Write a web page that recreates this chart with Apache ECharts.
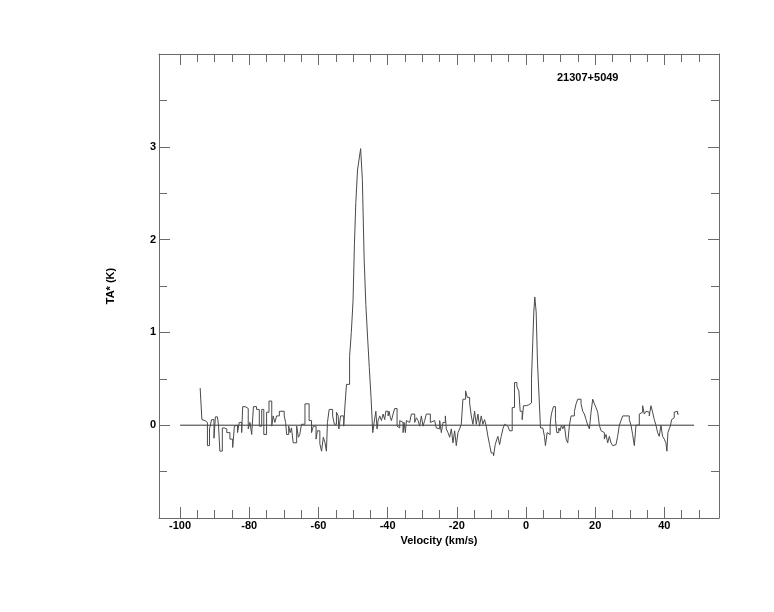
<!DOCTYPE html>
<html><head><meta charset="utf-8">
<script src="https://cdn.jsdelivr.net/npm/echarts@6/dist/echarts.min.js"></script>
<style>html,body{margin:0;padding:0;background:#fff}#c{width:774px;height:612px}</style>
</head><body><div id="c"></div>
<script>
// ---- data ----
const xMajorTicks = [-100, -80, -60, -40, -20, 0, 20, 40];
const xMinorTicks = [-100,-95,-90,-85,-80,-75,-70,-65,-60,-55,-50,-45,-40,-35,-30,-25,-20,-15,-10,-5,0,5,10,15,20,25,30,35,40,45,50];
const yTickLabels = [0, 1, 2, 3];
const sourceName = '21307+5049';
const baselineSpan = [-100, 48.6];

// [velocity (km/s) at start of step, TA* (K)]
const westBaseline = [
  [-94.2,0.40],[-93.7,0.06],[-93.3,0.05],[-92.8,0.03],[-92.1,-0.22],[-91.5,-0.04],[-91.1,-0.06],[-90.9,0.06],
  [-90.2,-0.14],[-89.8,0.09],[-89.2,0.08],[-88.9,0.00],[-88.5,-0.28],[-87.8,-0.03],[-87.2,-0.04],[-86.5,-0.08],
  [-85.6,-0.15],[-84.8,-0.24],[-84.3,-0.01],[-83.8,0.00],[-83.4,-0.08],[-82.9,0.03],[-82.2,-0.08],[-81.9,0.20],
  [-81.2,0.18],[-80.3,-0.04],[-79.8,0.03],[-79.3,-0.10],[-78.8,0.20],[-77.9,0.17],[-77.1,-0.01],[-76.4,0.17],
  [-75.8,-0.10],[-75.0,0.14],[-74.3,0.26],[-73.5,-0.01],[-73.1,0.10],[-72.6,0.03],[-72.1,0.10],[-71.3,0.15],
  [-69.9,0.10],[-69.5,0.03],[-69.2,-0.10],[-68.6,-0.01],[-68.2,-0.08],[-67.8,-0.03],[-67.3,-0.19],[-66.3,-0.01],
  [-65.8,-0.13],[-65.4,-0.10],[-64.9,0.01],[-63.9,0.23],[-62.7,0.05],[-62.0,-0.08],[-61.5,-0.01],[-60.7,-0.15],
  [-60.3,-0.06],[-59.6,-0.20],[-59.1,-0.28],[-58.6,-0.13],[-58.1,-0.19],[-57.7,-0.28],[-57.4,0.03],[-56.9,0.17],
  [-55.9,0.10],[-55.4,0.01],[-54.8,0.14],[-54.3,0.10],[-54.1,-0.04],[-53.6,0.10],[-52.7,-0.01],[-52.3,0.23]
];
const mainPeak = [
  [-51.9,0.44],[-51.0,0.74],[-50.5,1.00],[-50.0,1.34],[-49.6,1.95],[-49.2,2.40],[-48.7,2.75],[-48.2,2.88],
  [-47.8,2.98],[-47.3,2.64],[-46.8,1.80],[-46.3,1.30],[-45.8,0.95],[-45.3,0.62],[-44.8,0.30]
];
const midBand = [
  [-44.3,-0.08],[-43.9,0.03],[-43.4,0.15],[-43.05,-0.04],[-42.76,0.05],[-42.28,0.10],[-41.8,0.05],[-41.31,0.12],
  [-40.83,0.06],[-40.55,0.15],[-39.87,0.10],[-39.58,0.15],[-39.2,0.08],[-38.91,0.05],[-38.43,0.12],[-37.95,0.18],
  [-37.27,-0.01],[-36.99,-0.03],[-36.5,0.05],[-36.02,0.03],[-35.54,-0.08],[-35.25,0.03],[-34.87,-0.08],[-34.58,0.05],
  [-34.1,0.03],[-33.62,0.05],[-33.14,0.12],[-32.17,0.03],[-31.69,0.08],[-31.21,0.05],[-30.73,-0.01],[-30.25,0.10],
  [-29.77,-0.01],[-29.29,0.05],[-28.81,0.12],[-27.65,0.03],[-27.08,0.05],[-26.4,0.06],[-25.92,-0.03],[-25.44,-0.04],
  [-24.96,0.05],[-24.48,-0.08],[-24.0,0.03],[-23.32,0.10],[-23.04,-0.04],[-22.55,-0.08],[-22.07,-0.13],[-21.59,-0.04],
  [-21.11,-0.19],[-20.63,-0.06],[-20.15,-0.22],[-19.67,-0.08],[-19.19,-0.04],[-18.71,0.01],[-18.23,0.28],[-17.46,0.37],
  [-16.98,0.30],[-16.3,0.24],[-15.82,0.10],[-15.34,0.01],[-14.86,0.15],[-14.38,0.01],[-13.9,0.12],[-13.42,-0.01],
  [-12.94,0.10],[-12.46,0.01],[-11.97,0.06],[-11.49,-0.01],[-11.01,-0.12],[-10.53,-0.21],[-10.05,-0.30],[-9.38,-0.33],
  [-8.9,-0.21],[-8.41,-0.15],[-8.13,-0.12],[-7.64,-0.21],[-7.16,-0.12],[-6.68,-0.04],[-6.2,0.01],[-5.72,-0.01],
  [-5.24,0.01],[-4.76,-0.06]
];
const eastBand = [
  [-3.99,0.19],[-3.32,0.46],[-2.64,0.42],[-2.07,0.37],[-1.68,0.15],[-1.10,0.06],[-0.72,0.21],[0.05,0.22],
  [0.82,0.23],[1.20,0.24],[1.59,0.50],[1.97,0.91],[2.26,1.22],[2.55,1.38],[2.94,1.22],[3.32,0.68],
  [3.70,0.37],[4.19,-0.03],[4.86,-0.04],[5.34,-0.12],[5.63,-0.22],[6.11,-0.08],[6.59,-0.10],[6.98,0.00],
  [7.26,0.10],[7.55,0.15],[7.94,0.20],[8.52,0.06],[8.90,-0.08],[9.48,-0.03],[9.86,-0.06],[10.25,0.00],
  [10.63,-0.04],[11.11,0.00],[11.60,-0.15],[12.07,-0.19],[12.56,0.00],[13.04,0.10],[14.00,0.15],[14.48,0.23],
  [14.96,0.28],[15.92,0.23],[16.40,0.15],[16.88,0.12],[17.37,0.06],[17.85,0.00],[18.33,-0.04],[18.81,0.14],
  [19.29,0.28],[19.77,0.23],[20.25,0.19],[20.73,0.14],[21.21,0.00],[21.70,-0.06],[22.18,-0.08],[22.66,-0.15],
  [23.14,-0.10],[23.62,-0.19],[24.10,-0.12],[24.58,-0.19],[25.06,-0.22],[25.54,-0.21],[26.02,-0.22],[26.50,-0.12],
  [26.99,0.00],[27.47,0.05],[27.95,0.10],[28.91,0.12],[29.39,0.10],[29.87,0.06],[30.35,0.00],[30.83,-0.10],
  [31.32,-0.22],[31.80,0.00],[32.76,0.12],[33.24,0.14],[33.72,0.21],[34.20,0.12],[34.68,0.15],[35.16,0.14],
  [35.64,0.10],[36.12,0.21],[36.61,0.14],[37.09,0.06],[37.57,0.00],[38.05,-0.08],[38.53,-0.12],[39.01,0.00],
  [39.49,-0.12],[39.97,-0.15],[40.45,-0.19],[40.74,-0.28],[41.03,-0.08],[41.42,-0.04],[41.80,0.00],[42.09,0.06],
  [42.38,0.08],[42.86,0.14],[43.34,0.15],[43.82,0.12],[44.2,0.12]
];

// ---- chart ----
const X_MIN = -106.1, X_MAX = 55.8;
const AX = '#6a6a6a';
const FONT = 'Liberation Sans, Arial, Helvetica, sans-serif';
const spectrum = [].concat(westBaseline, mainPeak, midBand, eastBand);

function xAxisDef(pos, ticks, len, primary) {
  return {
    type: 'value', position: pos, min: X_MIN, max: X_MAX, gridIndex: 0,
    axisLine: { show: primary, onZero: false, lineStyle: { color: AX, width: 1 } },
    axisTick: { show: true, inside: true, length: len, customValues: ticks, lineStyle: { color: AX, width: 1 } },
    axisLabel: (primary && pos === 'bottom') ? {
      show: true, customValues: xMajorTicks, margin: 2, color: '#000',
      fontSize: 11, fontWeight: 'bold', fontFamily: FONT
    } : { show: false },
    splitLine: { show: false },
    name: (primary && pos === 'bottom') ? 'Velocity (km/s)' : '',
    nameLocation: 'middle', nameGap: 12,
    nameTextStyle: { color: '#000', fontSize: 11, fontWeight: 'bold', fontFamily: FONT }
  };
}
function yAxisDef(pos, primary) {
  return {
    type: 'value', position: pos, min: -1, max: 4, interval: 1,
    axisLine: { show: true, onZero: false, lineStyle: { color: AX, width: 1 } },
    axisTick: { show: true, inside: true, length: 11, lineStyle: { color: AX, width: 1 } },
    minorTick: { show: true, splitNumber: 2, length: 8, lineStyle: { color: AX, width: 1 } },
    axisLabel: primary ? {
      show: true, margin: 3, color: '#000', fontSize: 11, fontWeight: 'bold', fontFamily: FONT,
      formatter: v => (yTickLabels.indexOf(v) >= 0 ? String(v) : '')
    } : { show: false },
    splitLine: { show: false }, minorSplitLine: { show: false },
    name: primary ? 'TA* (K)' : '',
    nameLocation: 'middle', nameGap: 43, nameRotate: 90,
    nameTextStyle: { color: '#000', fontSize: 11, fontWeight: 'bold', fontFamily: FONT }
  };
}

const chart = echarts.init(document.getElementById('c'), null, { renderer: 'canvas' });
chart.setOption({
  animation: false,
  backgroundColor: '#fff',
  title: {
    text: sourceName, left: 552, top: 67,
    textStyle: { color: '#000', fontSize: 11, fontWeight: 'bold', fontFamily: FONT }
  },
  grid: { left: 159, right: 55, top: 54, bottom: 94, containLabel: false },
  xAxis: [
    xAxisDef('bottom', xMajorTicks, 11, true),
    xAxisDef('bottom', xMinorTicks, 8, false),
    xAxisDef('top', xMajorTicks, 11, true),
    xAxisDef('top', xMinorTicks, 8, false)
  ],
  yAxis: [yAxisDef('left', true), yAxisDef('right', false)],
  series: [
    {
      type: 'line', xAxisIndex: 0, yAxisIndex: 0, step: 'end', showSymbol: false,
      data: spectrum, lineStyle: { color: '#4a4a4a', width: 1 }, z: 3
    },
    {
      type: 'line', xAxisIndex: 0, yAxisIndex: 0, showSymbol: false,
      data: [[baselineSpan[0], 0], [baselineSpan[1], 0]],
      lineStyle: { color: '#333', width: 1 }, z: 2
    }
  ]
});
</script></body></html>
